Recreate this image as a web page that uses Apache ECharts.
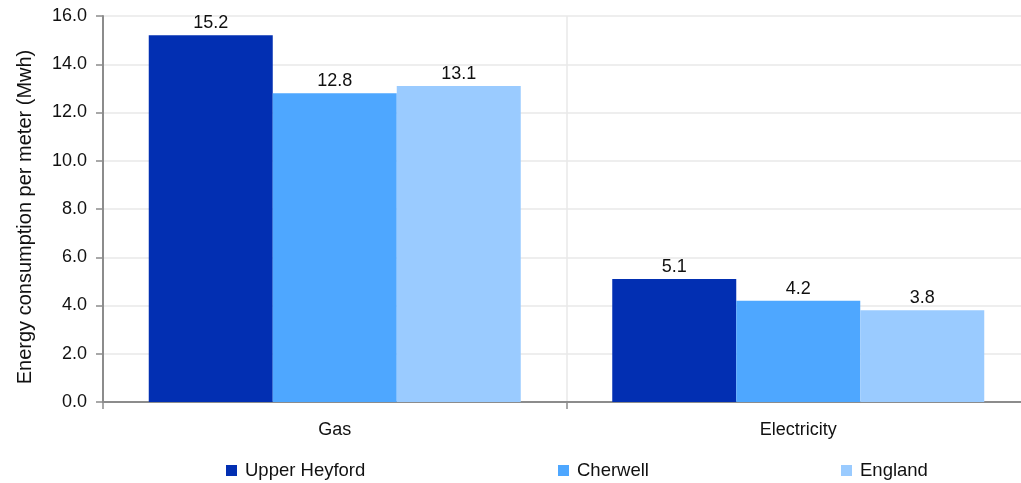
<!DOCTYPE html>
<html><head><meta charset="utf-8">
<script src="https://cdn.jsdelivr.net/npm/echarts@6/dist/echarts.min.js"></script>
<style>html,body{margin:0;padding:0;background:#fff}#c{width:1021px;height:483px}</style>
</head><body><div id="c"></div>
<script>
const categories = ['Gas', 'Electricity'];
const seriesNames = ['Upper Heyford', 'Cherwell', 'England'];
const upperHeyford = [15.2, 5.1];
const cherwell = [12.8, 4.2];
const england = [13.1, 3.8];
const yTicks = { min: 0, max: 16, interval: 2 };
const colors = ['#022FB2', '#4EA7FF', '#9ACBFF'];
const values = [upperHeyford, cherwell, england];
const font = 'Arial, "Liberation Sans", sans-serif';
const fs = 18;

const chart = echarts.init(document.getElementById('c'), null, {renderer: 'canvas'});
const legendLefts = [226, 558, 841];
chart.setOption({
  animation: false,
  textStyle: { fontFamily: font },
  grid: { left: 103, width: 927, top: 16, bottom: 81, containLabel: false, outerBoundsMode: 'none' },
  legend: seriesNames.map((n, i) => ({
    data: [n], left: legendLefts[i], top: 461, itemWidth: 11, itemHeight: 11, itemGap: 0, padding: 0,
    icon: 'rect', textStyle: { fontSize: 18.5, color: '#111', fontFamily: font, padding: [0,0,0,3] },
    selectedMode: false
  })),
  xAxis: {
    type: 'category', data: categories,
    axisLine: { lineStyle: { color: '#8c8c8c', width: 2 } },
    axisTick: { show: true, length: 7, lineStyle: { color: '#8c8c8c', width: 1.5 } },
    splitLine: { show: true, lineStyle: { color: '#e8e8e8', width: 1.5 } },
    axisLabel: { fontSize: fs, color: '#111', margin: 19, fontFamily: font }
  },
  yAxis: {
    type: 'value', min: yTicks.min, max: yTicks.max, interval: yTicks.interval,
    name: 'Energy consumption per meter (Mwh)', nameLocation: 'middle', nameGap: 68,
    nameTextStyle: { fontSize: 20, color: '#111', fontFamily: font, padding: [0, 16, 0, 0] },
    axisLine: { show: true, lineStyle: { color: '#8c8c8c', width: 2 } },
    axisTick: { show: true, length: 7, lineStyle: { color: '#8c8c8c', width: 1.5 } },
    splitLine: { show: true, lineStyle: { color: '#e8e8e8', width: 1.5 } },
    axisLabel: { fontSize: fs, color: '#111', margin: 16, fontFamily: font, formatter: v => v.toFixed(1) }
  },
  series: seriesNames.map((n, i) => ({
    name: n, type: 'bar', data: values[i], barWidth: 124, barGap: '0%',
    itemStyle: { color: colors[i] },
    label: { show: true, position: 'top', distance: 3, fontSize: fs, color: '#111', fontFamily: font,
      formatter: p => p.value.toFixed(1) }
  }))
});
</script></body></html>
